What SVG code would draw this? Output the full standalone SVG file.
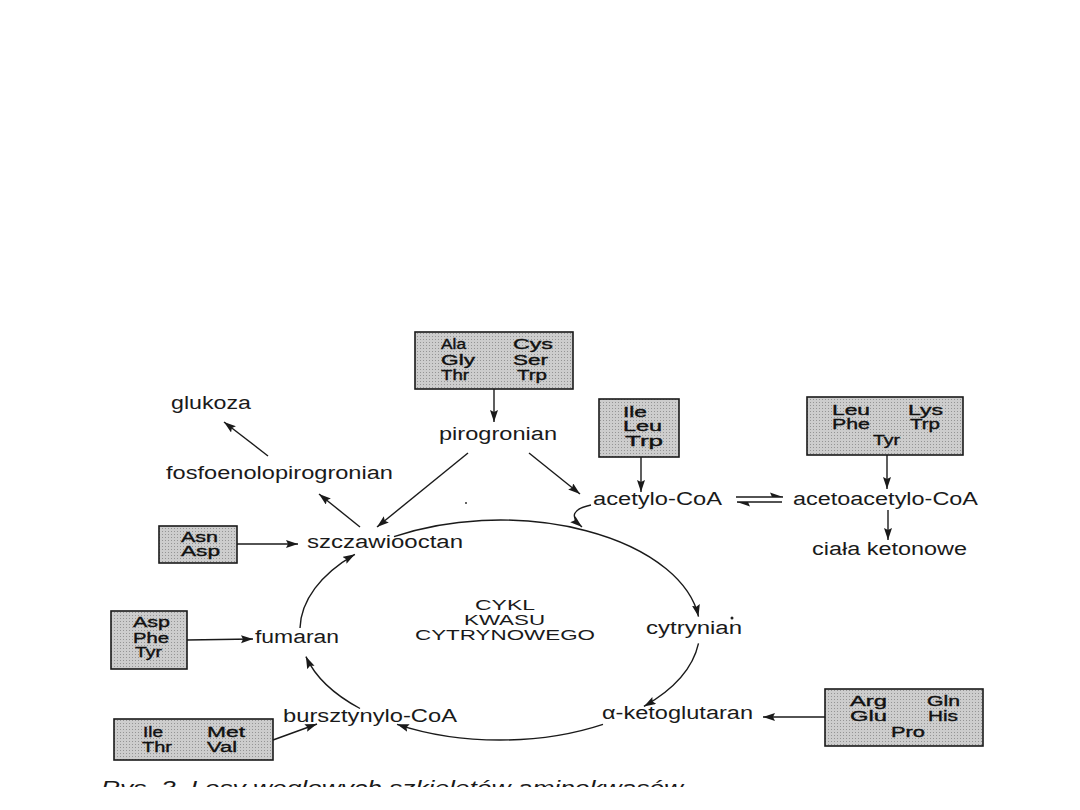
<svg xmlns="http://www.w3.org/2000/svg" width="1080" height="810" viewBox="0 0 1080 810">
<style>
text{font-family:"Liberation Sans",Arial,sans-serif;fill:#1a1a1a}
.lb{font-size:18px}
.bx{font-size:14px;fill:#111;stroke:#111;stroke-width:0.35}
.cy{font-size:15px}
.box{stroke:#1a1a1a;stroke-width:1.6}
.ln{fill:none;stroke:#1a1a1a;stroke-width:1.4}
.cap{font-size:20px;font-style:italic}
</style>
<defs>
<marker id="ah" markerUnits="userSpaceOnUse" markerWidth="13" markerHeight="9" refX="12" refY="4" orient="auto">
<path d="M0,0 L12,4 L0,8 L2,4 z" fill="#1a1a1a"/>
</marker>
<pattern id="dots" width="3" height="3" patternUnits="userSpaceOnUse">
<rect width="3" height="3" fill="#cdcdcd"/>
<rect width="1" height="1" fill="#959595"/>
</pattern>
<clipPath id="cc"><rect x="0" y="0" width="1080" height="787"/></clipPath>
</defs>
<rect width="1080" height="810" fill="#ffffff"/>

<g id="box-pir">
<rect class="box" x="415" y="332" width="158" height="57" fill="url(#dots)"/>
<text class="bx" x="441" y="349" textLength="25" lengthAdjust="spacingAndGlyphs">Ala</text>
<text class="bx" x="513" y="349" textLength="40" lengthAdjust="spacingAndGlyphs">Cys</text>
<text class="bx" x="441" y="365" textLength="34" lengthAdjust="spacingAndGlyphs">Gly</text>
<text class="bx" x="513" y="365" textLength="35" lengthAdjust="spacingAndGlyphs">Ser</text>
<text class="bx" x="441" y="380" textLength="28" lengthAdjust="spacingAndGlyphs">Thr</text>
<text class="bx" x="517" y="380" textLength="30" lengthAdjust="spacingAndGlyphs">Trp</text>
</g>
<g id="box-acetyl">
<rect class="box" x="599" y="399" width="80" height="58" fill="url(#dots)"/>
<text class="bx" x="623" y="417" textLength="24" lengthAdjust="spacingAndGlyphs">Ile</text>
<text class="bx" x="623" y="431" textLength="39" lengthAdjust="spacingAndGlyphs">Leu</text>
<text class="bx" x="625" y="446" textLength="38" lengthAdjust="spacingAndGlyphs">Trp</text>
</g>
<g id="box-acetoacetyl">
<rect class="box" x="807" y="397" width="156" height="58" fill="url(#dots)"/>
<text class="bx" x="832" y="415" textLength="38" lengthAdjust="spacingAndGlyphs">Leu</text>
<text class="bx" x="908" y="415" textLength="35" lengthAdjust="spacingAndGlyphs">Lys</text>
<text class="bx" x="832" y="429" textLength="38" lengthAdjust="spacingAndGlyphs">Phe</text>
<text class="bx" x="910" y="429" textLength="30" lengthAdjust="spacingAndGlyphs">Trp</text>
<text class="bx" x="873" y="445" textLength="27" lengthAdjust="spacingAndGlyphs">Tyr</text>
</g>
<g id="box-szcz">
<rect class="box" x="159" y="526" width="78" height="37" fill="url(#dots)"/>
<text class="bx" x="181" y="542" textLength="37" lengthAdjust="spacingAndGlyphs">Asn</text>
<text class="bx" x="181" y="556" textLength="39" lengthAdjust="spacingAndGlyphs">Asp</text>
</g>
<g id="box-fum">
<rect class="box" x="111" y="611" width="76" height="58" fill="url(#dots)"/>
<text class="bx" x="133" y="627" textLength="37" lengthAdjust="spacingAndGlyphs">Asp</text>
<text class="bx" x="133" y="643" textLength="36" lengthAdjust="spacingAndGlyphs">Phe</text>
<text class="bx" x="135" y="657" textLength="27" lengthAdjust="spacingAndGlyphs">Tyr</text>
</g>
<g id="box-burs">
<rect class="box" x="114" y="719" width="159" height="41" fill="url(#dots)"/>
<text class="bx" x="143" y="737" textLength="20" lengthAdjust="spacingAndGlyphs">Ile</text>
<text class="bx" x="207" y="737" textLength="38" lengthAdjust="spacingAndGlyphs">Met</text>
<text class="bx" x="142" y="752" textLength="30" lengthAdjust="spacingAndGlyphs">Thr</text>
<text class="bx" x="207" y="752" textLength="30" lengthAdjust="spacingAndGlyphs">Val</text>
</g>
<g id="box-keto">
<rect class="box" x="825" y="689" width="158" height="57" fill="url(#dots)"/>
<text class="bx" x="850" y="706" textLength="37" lengthAdjust="spacingAndGlyphs">Arg</text>
<text class="bx" x="927" y="706" textLength="33" lengthAdjust="spacingAndGlyphs">Gln</text>
<text class="bx" x="850" y="721" textLength="37" lengthAdjust="spacingAndGlyphs">Glu</text>
<text class="bx" x="928" y="721" textLength="30" lengthAdjust="spacingAndGlyphs">His</text>
<text class="bx" x="891" y="737" textLength="34" lengthAdjust="spacingAndGlyphs">Pro</text>
</g>

<g id="pirogronian"><text class="lb" x="439" y="440" textLength="118" lengthAdjust="spacingAndGlyphs">pirogronian</text></g>
<g id="acetylo-CoA"><text class="lb" x="593" y="505" textLength="129" lengthAdjust="spacingAndGlyphs">acetylo-CoA</text></g>
<g id="acetoacetylo-CoA"><text class="lb" x="793" y="505" textLength="185" lengthAdjust="spacingAndGlyphs">acetoacetylo-CoA</text></g>
<g id="ciala"><text class="lb" x="812" y="555" textLength="155" lengthAdjust="spacingAndGlyphs">ciała ketonowe</text></g>
<g id="glukoza"><text class="lb" x="171" y="409" textLength="80" lengthAdjust="spacingAndGlyphs">glukoza</text></g>
<g id="fosfo"><text class="lb" x="166" y="479" textLength="227" lengthAdjust="spacingAndGlyphs">fosfoenolopirogronian</text></g>
<g id="szczawiooctan"><text class="lb" x="307" y="548" textLength="156" lengthAdjust="spacingAndGlyphs">szczawiooctan</text></g>
<g id="fumaran"><text class="lb" x="255" y="643" textLength="84" lengthAdjust="spacingAndGlyphs">fumaran</text></g>
<g id="cytrynian"><text class="lb" x="646" y="634" textLength="96" lengthAdjust="spacingAndGlyphs">cytrynian</text></g>
<g id="ketoglutaran"><text class="lb" x="602" y="719" textLength="151" lengthAdjust="spacingAndGlyphs">α-ketoglutaran</text></g>
<g id="bursztynylo"><text class="lb" x="283" y="722" textLength="174" lengthAdjust="spacingAndGlyphs">bursztynylo-CoA</text></g>
<g id="cykl">
<text class="cy" x="475" y="610" textLength="60" lengthAdjust="spacingAndGlyphs">CYKL</text>
<text class="cy" x="464" y="625" textLength="81" lengthAdjust="spacingAndGlyphs">KWASU</text>
<text class="cy" x="415" y="640" textLength="180" lengthAdjust="spacingAndGlyphs">CYTRYNOWEGO</text>
</g>

<g id="connectors" class="ln">
<path class="ln" d="M394,536.7 A200,110 0 0 1 698.5,616.6" marker-end="url(#ah)"/>
<path class="ln" d="M698.5,643.4 A200,110 0 0 1 643.9,706.4" marker-end="url(#ah)"/>
<path class="ln" d="M603,724.3 A200,110 0 0 1 397,724.3" marker-end="url(#ah)"/>
<path class="ln" d="M360,708.5 A200,110 0 0 1 305.9,656.6" marker-end="url(#ah)"/>
<path class="ln" d="M300,628.1 A200,110 0 0 1 354.9,554.3" marker-end="url(#ah)"/>
<path class="ln" d="M591,505 Q563,511 582,527" marker-end="url(#ah)"/>
<line class="ln" x1="494" y1="389" x2="494" y2="422" marker-end="url(#ah)"/>
<line class="ln" x1="641" y1="457" x2="641" y2="492" marker-end="url(#ah)"/>
<line class="ln" x1="887" y1="455" x2="887" y2="489" marker-end="url(#ah)"/>
<line class="ln" x1="888" y1="510" x2="888" y2="540" marker-end="url(#ah)"/>
<line class="ln" x1="529" y1="453" x2="580" y2="494" marker-end="url(#ah)"/>
<line class="ln" x1="468" y1="453" x2="377" y2="527" marker-end="url(#ah)"/>
<line class="ln" x1="360" y1="527" x2="319" y2="494" marker-end="url(#ah)"/>
<line class="ln" x1="268" y1="456" x2="224" y2="422" marker-end="url(#ah)"/>
<line class="ln" x1="237" y1="544" x2="298" y2="544" marker-end="url(#ah)"/>
<line class="ln" x1="187" y1="640" x2="253" y2="639" marker-end="url(#ah)"/>
<line class="ln" x1="273" y1="740" x2="317" y2="724" marker-end="url(#ah)"/>
<line class="ln" x1="825" y1="717" x2="763" y2="717" marker-end="url(#ah)"/>
<line class="ln" x1="736" y1="497" x2="783" y2="497"/>
<path d="M783,497 L770,492.5 L772,497 z" fill="#1a1a1a" stroke="none"/>
<line class="ln" x1="737" y1="502" x2="782" y2="502"/>
<path d="M737,502 L750,506.5 L748,502 z" fill="#1a1a1a" stroke="none"/>
</g>
<circle cx="466" cy="503" r="1" fill="#333"/>
<circle cx="732" cy="618" r="1.5" fill="#222"/>

<g clip-path="url(#cc)">
<text class="cap" x="101" y="795" textLength="582" lengthAdjust="spacingAndGlyphs">Rys. 3. Losy węglowych szkieletów aminokwasów</text>
</g>
</svg>
